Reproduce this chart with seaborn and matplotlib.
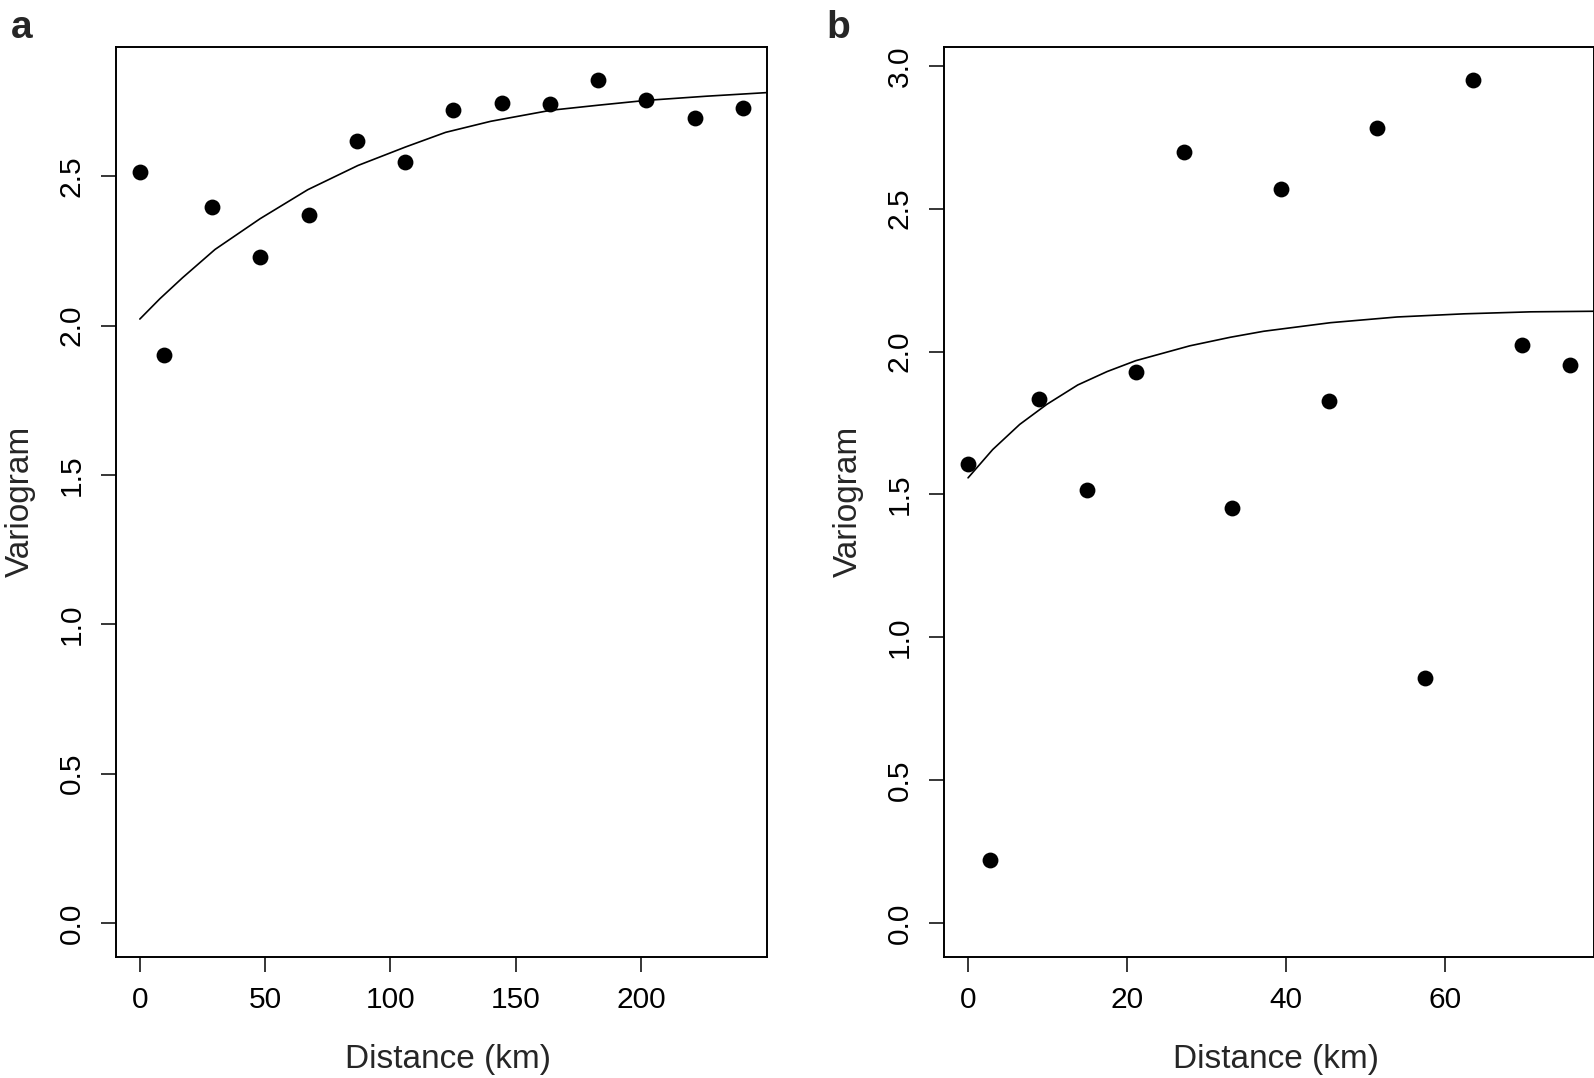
import numpy as np
import pandas as pd
import seaborn as sns
import matplotlib.pyplot as plt

# panel a: empirical variogram + fitted curve
dist_a = [0, 9.7, 28.8, 48.1, 67.3, 86.6, 105.9, 125.1, 144.4, 163.6, 182.9, 202.1, 221.4, 240.5]
gamma_a = [2.513, 1.903, 2.398, 2.230, 2.369, 2.618, 2.548, 2.721, 2.744, 2.742, 2.821, 2.754, 2.694, 2.729]
fit_x_a = [0, 8, 17, 30, 48, 67, 87, 106, 122, 140, 164, 183, 202, 226, 250]
fit_y_a = [2.022, 2.090, 2.160, 2.255, 2.358, 2.455, 2.536, 2.598, 2.647, 2.684, 2.721, 2.738, 2.754, 2.768, 2.780]

# panel b
dist_b = [0, 2.81, 8.89, 15.02, 21.07, 27.15, 33.24, 39.33, 45.42, 51.46, 57.55, 63.59, 69.68, 75.77]
gamma_b = [1.608, 0.222, 1.835, 1.517, 1.929, 2.700, 1.454, 2.568, 1.826, 2.782, 0.856, 2.949, 2.022, 1.954]
fit_x_b = [0, 3.1, 6.5, 9.9, 13.8, 17.5, 21.1, 27.9, 33.0, 37.2, 45.6, 54.0, 62.4, 70.8, 78.8]
fit_y_b = [1.558, 1.657, 1.745, 1.815, 1.883, 1.930, 1.968, 2.020, 2.050, 2.071, 2.101, 2.121, 2.132, 2.139, 2.141]

xticks_a = [0, 50, 100, 150, 200]
xticks_b = [0, 20, 40, 60]
yticks_a = [0.0, 0.5, 1.0, 1.5, 2.0, 2.5]
yticks_b = [0.0, 0.5, 1.0, 1.5, 2.0, 2.5, 3.0]

sns.set_theme(style="ticks")
plt.rcParams['font.family'] = ['Liberation Sans', 'DejaVu Sans']
plt.rcParams['axes.linewidth'] = 1.4

fig = plt.figure(figsize=(15.94, 10.78), dpi=100)
ax_a = fig.add_axes([0.0726, 0.1125, 0.4084, 0.8442])
ax_b = fig.add_axes([0.5922, 0.1125, 0.4080, 0.8442])


def r_lim(vals):
    # R style: data range plus 4% on each side
    lo, hi = min(vals), max(vals)
    pad = 0.04 * (hi - lo)
    return lo - pad, hi + pad


panels = [
    (ax_a, dist_a, gamma_a, fit_x_a, fit_y_a, xticks_a, yticks_a, 'a', 0.0069),
    (ax_b, dist_b, gamma_b, fit_x_b, fit_y_b, xticks_b, yticks_b, 'b', 0.5185),
]

for ax, dx, gy, fx, fy, xt, yt, letter, lx in panels:
    sns.scatterplot(x=dx, y=gy, ax=ax, color='black', s=130, linewidth=0, zorder=3)
    sns.lineplot(x=fx, y=fy, ax=ax, color='black', linewidth=1.2, sort=False, estimator=None)
    ax.set_xlim(r_lim(dx))
    ax.set_ylim(r_lim([0] + gy))
    ax.set_xticks(xt)
    ax.set_xticklabels([str(v) for v in xt])
    ax.set_yticks(yt)
    ax.set_yticklabels([f"{v:.1f}" for v in yt])
    ax.tick_params(axis='both', direction='out', length=10.8, width=1.1,
                   labelsize=21.5, colors='black')
    ax.tick_params(axis='x', pad=10)
    ax.tick_params(axis='y', pad=11, labelrotation=90)
    for lab in ax.get_yticklabels():
        lab.set_va('center')
    for sp in ax.spines.values():
        sp.set_visible(True)
        sp.set_color('black')
    ax.set_xlabel("Distance (km)", fontsize=24)
    ax.set_ylabel("Variogram", fontsize=24)
    ax.xaxis.set_label_coords(0.51, -0.0955)
    ax.yaxis.set_label_coords(-0.123, 0.5)
    fig.text(lx, 1 - 38 / 1078, letter, fontsize=28, fontweight='bold',
             ha='left', va='baseline')

fig.savefig('out.png', dpi=100)
